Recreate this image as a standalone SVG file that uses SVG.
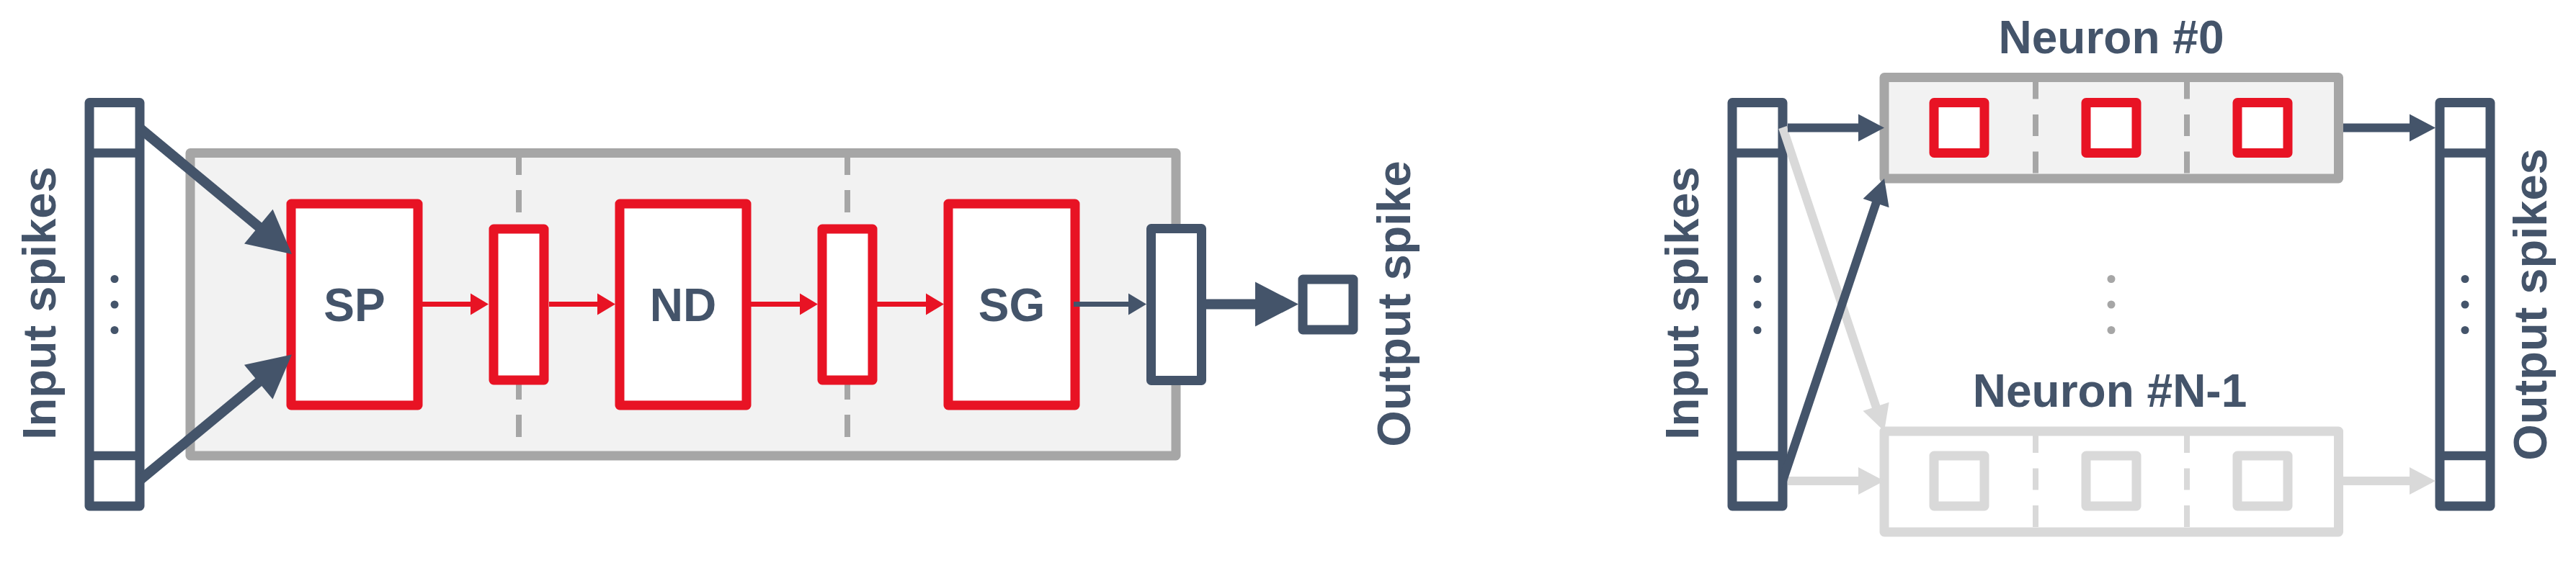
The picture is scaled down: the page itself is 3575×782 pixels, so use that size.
<svg xmlns="http://www.w3.org/2000/svg" width="3575" height="782" viewBox="0 0 3575 782">
<style>
.lbl{font-family:"Liberation Sans",Arial,sans-serif;font-weight:bold;fill:#44546a;}
.side{font-size:65px;}
.blk{font-size:64px;}
.nrn{font-size:64px;}
.dk{fill:#fff;stroke:#44546a;stroke-width:13;stroke-linejoin:round;}
.rd{fill:#fff;stroke:#e81324;stroke-width:13;stroke-linejoin:round;}
.gbox{fill:#f2f2f2;stroke:#a6a6a6;stroke-width:13;stroke-linejoin:round;}
.lbox{fill:#fff;stroke:#d9d9d9;stroke-width:13;stroke-linejoin:round;}
.bdiv{stroke:#44546a;stroke-width:12.5;}
.dsh{stroke:#a6a6a6;stroke-width:8;stroke-dasharray:31 21;fill:none;}
.dshn{stroke:#a6a6a6;stroke-width:8;stroke-dasharray:30 21.5;fill:none;}
.dshl{stroke:#d9d9d9;stroke-width:8;stroke-dasharray:30 21.5;fill:none;}
.dotd{fill:#44546a;}
.dotg{fill:#a6a6a6;}
.cr{stroke:#e81324;stroke-width:7;fill:none;}
.cd{stroke:#44546a;stroke-width:7;fill:none;}
.ct{stroke:#44546a;stroke-width:14;fill:none;}
.cm{stroke:#44546a;stroke-width:12;fill:none;}
.cl{stroke:#d9d9d9;stroke-width:12;fill:none;}
</style>
<defs>
<marker id="hR" markerUnits="userSpaceOnUse" markerWidth="25" markerHeight="30" refX="1" refY="15" orient="auto" overflow="visible"><path d="M0,0L25,15L0,30z" fill="#e81324"/></marker>
<marker id="hD" markerUnits="userSpaceOnUse" markerWidth="25" markerHeight="30" refX="1" refY="15" orient="auto" overflow="visible"><path d="M0,0L25,15L0,30z" fill="#44546a"/></marker>
<marker id="hT" markerUnits="userSpaceOnUse" markerWidth="60" markerHeight="62" refX="1" refY="31" orient="auto" overflow="visible"><path d="M0,0L60,31L0,62z" fill="#44546a"/></marker>
<marker id="hM" markerUnits="userSpaceOnUse" markerWidth="36" markerHeight="38" refX="1" refY="19" orient="auto" overflow="visible"><path d="M0,0L36,19L0,38z" fill="#44546a"/></marker>
<marker id="hL" markerUnits="userSpaceOnUse" markerWidth="36" markerHeight="38" refX="1" refY="19" orient="auto" overflow="visible"><path d="M0,0L36,19L0,38z" fill="#d9d9d9"/></marker>
</defs>

<!-- Left panel -->
<g id="input-spikes-left">
<rect class="dk" x="124" y="142.5" width="70" height="560.5"/>
<line class="bdiv" x1="124" y1="212.5" x2="194" y2="212.5"/>
<line class="bdiv" x1="124" y1="633" x2="194" y2="633"/>
<circle class="dotd" cx="159" cy="387.5" r="5.5"/>
<circle class="dotd" cx="159" cy="423" r="5.5"/>
<circle class="dotd" cx="159" cy="458.5" r="5.5"/>
<text class="lbl side" text-anchor="middle" transform="translate(77,421) rotate(-90)">Input spikes</text>
</g>
<g id="neuron-core">
<rect class="gbox" x="264" y="212.5" width="1368" height="420.5"/>
<line class="dsh" x1="720" y1="212" x2="720" y2="633"/>
<line class="dsh" x1="1176" y1="212" x2="1176" y2="633"/>
</g>
<g id="sp">
<rect class="rd" x="404" y="283" width="176" height="280"/>
<text class="lbl blk" x="492" y="446" text-anchor="middle">SP</text>
</g>
<g id="reg1"><rect class="rd" x="685" y="318" width="70" height="210"/></g>
<g id="nd">
<rect class="rd" x="860" y="283" width="176" height="280"/>
<text class="lbl blk" x="948" y="446" text-anchor="middle">ND</text>
</g>
<g id="reg2"><rect class="rd" x="1141" y="318" width="70" height="210"/></g>
<g id="sg">
<rect class="rd" x="1316" y="283" width="176" height="280"/>
<text class="lbl blk" x="1404" y="446" text-anchor="middle">SG</text>
</g>
<g id="out-reg"><rect class="dk" x="1597.5" y="317.5" width="70" height="211"/></g>
<g id="output-spike">
<rect class="dk" x="1808" y="388" width="70" height="70"/>
<text class="lbl side" text-anchor="middle" transform="translate(1957,422) rotate(-90)">Output spike</text>
</g>

<!-- Right panel -->
<g id="input-spikes-right">
<rect class="dk" x="2404" y="142.5" width="70" height="560.5"/>
<line class="bdiv" x1="2404" y1="212.5" x2="2474" y2="212.5"/>
<line class="bdiv" x1="2404" y1="633" x2="2474" y2="633"/>
<circle class="dotd" cx="2439" cy="387.5" r="5.5"/>
<circle class="dotd" cx="2439" cy="423" r="5.5"/>
<circle class="dotd" cx="2439" cy="458.5" r="5.5"/>
<text class="lbl side" text-anchor="middle" transform="translate(2357,421) rotate(-90)">Input spikes</text>
</g>
<g id="neuron-0">
<text class="lbl nrn" x="2930" y="74" text-anchor="middle">Neuron #0</text>
<rect class="gbox" x="2615" y="107.5" width="630.5" height="140.5"/>
<line class="dshn" x1="2825" y1="107.5" x2="2825" y2="248"/>
<line class="dshn" x1="3035" y1="107.5" x2="3035" y2="248"/>
<rect class="rd" x="2684" y="142.5" width="70" height="70"/>
<rect class="rd" x="2895" y="142.5" width="70" height="70"/>
<rect class="rd" x="3105" y="142.5" width="70" height="70"/>
</g>
<g id="neuron-dots">
<circle class="dotg" cx="2930" cy="387.5" r="5.5"/>
<circle class="dotg" cx="2930" cy="423" r="5.5"/>
<circle class="dotg" cx="2930" cy="458.5" r="5.5"/>
</g>
<g id="neuron-n-1">
<text class="lbl nrn" x="2928" y="565" text-anchor="middle">Neuron #N-1</text>
<rect class="lbox" x="2615" y="599" width="630.5" height="140"/>
<line class="dshl" x1="2825" y1="599" x2="2825" y2="739"/>
<line class="dshl" x1="3035" y1="599" x2="3035" y2="739"/>
<rect class="lbox" x="2684" y="633" width="70" height="70"/>
<rect class="lbox" x="2895" y="633" width="70" height="70"/>
<rect class="lbox" x="3105" y="633" width="70" height="70"/>
</g>
<g id="output-spikes">
<rect class="dk" x="3386" y="142.5" width="70" height="560.5"/>
<line class="bdiv" x1="3386" y1="212.5" x2="3456" y2="212.5"/>
<line class="bdiv" x1="3386" y1="633" x2="3456" y2="633"/>
<circle class="dotd" cx="3421" cy="387.5" r="5.5"/>
<circle class="dotd" cx="3421" cy="423" r="5.5"/>
<circle class="dotd" cx="3421" cy="458.5" r="5.5"/>
<text class="lbl side" text-anchor="middle" transform="translate(3534,423) rotate(-90)">Output spikes</text>
</g>

<g id="connectors">
<path class="ct" d="M194,178L359.6,315.3" marker-end="url(#hT)"/>
<path class="ct" d="M194,667L359.5,530.1" marker-end="url(#hT)"/>
<path class="cr" d="M586,422.5H654" marker-end="url(#hR)"/>
<path class="cr" d="M762,422.5H830" marker-end="url(#hR)"/>
<path class="cr" d="M1042,422.5H1111" marker-end="url(#hR)"/>
<path class="cr" d="M1217,422.5H1286" marker-end="url(#hR)"/>
<path class="cd" d="M1490,422.5H1567" marker-end="url(#hD)"/>
<path class="ct" d="M1673,422.5H1743" marker-end="url(#hT)"/>
<path class="cl" d="M2474,177L2603.9,565.8" marker-end="url(#hL)"/>
<path class="cl" d="M2481,668H2580" marker-end="url(#hL)"/>
<path class="cl" d="M3252,668H3345" marker-end="url(#hL)"/>
<path class="cm" d="M2481,177.5H2580" marker-end="url(#hM)"/>
<path class="cm" d="M3252,177.5H3345" marker-end="url(#hM)"/>
<path class="cm" d="M2474,668L2603.9,281.2" marker-end="url(#hM)"/>
</g>
</svg>
